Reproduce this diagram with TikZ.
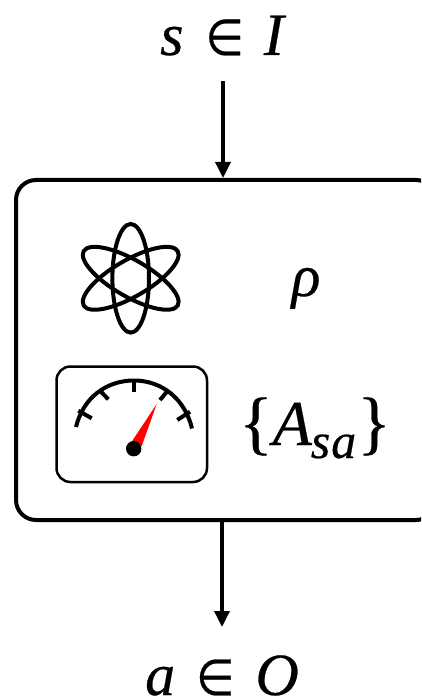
\documentclass[tikz,border=0pt]{standalone}
\usepackage{fontspec}
\setmainfont{Liberation Serif}[FakeBold=0.4]
\newfontfamily\symf{DejaVu Sans}[FakeBold=0.5]
\usetikzlibrary{arrows.meta}
\newcommand{\elem}{\scalebox{0.88}[1]{\symf\fontsize{50}{54}\selectfont ∈}}
\tikzset{
  outline/.style={draw=black,line width=4pt,rounded corners=20pt},
  orbit/.style={draw=black,line width=4pt},
  mainarrow/.style={draw=black,line width=3.5pt,-{Triangle[length=16pt,width=15pt]}},
  tick/.style={draw=black,line width=4pt},
  big/.style={inner sep=0pt,font=\fontsize{60}{66}\selectfont\itshape},
}
\begin{document}
\begin{tikzpicture}[x=1pt,y=-1pt]
\useasboundingbox (0,0) rectangle (421,700);
\clip (0,0) rectangle (421,700);
\node[outline,minimum width=420pt,minimum height=340pt,inner sep=0pt,anchor=north west] (box) at (14,178) {};
\node[big,anchor=base] (input) at (222,55) {s\hspace{22pt}\elem\hspace{20pt}I};
\node[big,anchor=base] (output) at (222,695) {a\hspace{21pt}\elem\hspace{21pt}O};
\node[big,anchor=base] (rho) at (306,296) {ρ};
\node[big,anchor=base] (meas) at (315,445) {\upshape\fontsize{70}{74}\selectfont\raisebox{-1pt}{\{}\fontsize{64}{70}\selectfont\itshape A\kern-1pt\raisebox{-13pt}{\fontsize{50}{54}\selectfont s\kern1pt a}\kern1pt\upshape\fontsize{70}{74}\selectfont\raisebox{-1pt}{\}}};
\coordinate (inStart) at (223,81);
\coordinate (inEnd) at (223,178);
\coordinate (outStart) at (222,518);
\coordinate (outEnd) at (222,627);
\draw[mainarrow] (inStart) -- (inEnd);
\draw[mainarrow] (outStart) -- (outEnd);
% atom
\coordinate (atom) at (130.7,278.3);
\draw[orbit] (atom) ellipse [x radius=18.3,y radius=54.3];
\draw[orbit,rotate around={60:(atom)}] (atom) ellipse [x radius=18.3,y radius=54.3];
\draw[orbit,rotate around={-60:(atom)}] (atom) ellipse [x radius=18.3,y radius=54.3];
% gauge
\draw[draw=black,line width=2.5pt,rounded corners=14pt] (56.5,366.5) rectangle (207,482);
\draw[tick] (76,427) .. controls (83,398) and (106,380.5) .. (134,380.5) .. controls (162,380.5) and (185,399) .. (192,428.5);
\draw[tick] (78.3,410.7) -- (91.7,418.3);
\draw[tick] (100,390.7) -- (108.3,399.3);
\draw[tick] (134,380) -- (134,392);
\draw[tick] (167.7,390.7) -- (160,400);
\draw[tick] (190,411.7) -- (177.3,420);
\fill[red] (156.7,404) -- (131.7,441.7) -- (141.7,446) -- cycle;
\fill[black] (133.7,448.7) circle (7.7);
\end{tikzpicture}
\end{document}
